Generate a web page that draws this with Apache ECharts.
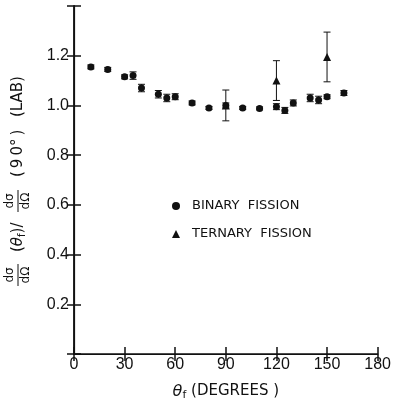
<!DOCTYPE html>
<html>
<head>
<meta charset="utf-8">
<script src="https://cdn.jsdelivr.net/npm/echarts@6/dist/echarts.min.js"></script>
<style>
  html, body { margin: 0; padding: 0; background: #fff; }
  #main { width: 394px; height: 406px; }
</style>
</head>
<body>
<div id="main"></div>
<script>
// angles (deg) and normalised cross sections
var binaryX = [10, 20, 30, 35, 40, 50, 55, 60, 70, 80, 90, 100, 110, 120, 125, 130, 140, 145, 150, 160];
var binaryY = [1.155, 1.145, 1.115, 1.12, 1.07, 1.045, 1.03, 1.035, 1.01, 0.99, 1.0, 0.99, 0.988, 0.995, 0.98, 1.01, 1.03, 1.022, 1.035, 1.05];
var binaryErr = [0.008, 0.008, 0.008, 0.015, 0.015, 0.015, 0.015, 0.012, 0.008, 0.006, 0.01, 0.006, 0.006, 0.012, 0.012, 0.012, 0.015, 0.015, 0.008, 0.01];

var ternaryX = [90, 120, 150];
var ternaryY = [1.0, 1.10, 1.195];
var ternaryErr = [0.062, 0.08, 0.1];

var xTicks = [0, 30, 60, 90, 120, 150, 180];
var yTicks = [0.2, 0.4, 0.6, 0.8, 1.0, 1.2];

var ink = '#111';
var fontFam = 'Liberation Sans';
var titleFam = 'DejaVu Sans';

function pts(xs, ys, es) {
    return xs.map(function (x, i) { return es ? [x, ys[i], es[i]] : [x, ys[i]]; });
}

// vertical error bar with small caps
function renderErr(params, api) {
    var x = api.value(0), y = api.value(1), e = api.value(2);
    var hi = api.coord([x, y + e]);
    var lo = api.coord([x, y - e]);
    var c = 3.5;
    var st = { stroke: ink, lineWidth: 1 };
    return {
        type: 'group',
        children: [
            { type: 'line', shape: { x1: hi[0], y1: hi[1], x2: lo[0], y2: lo[1] }, style: st },
            { type: 'line', shape: { x1: hi[0] - c, y1: hi[1], x2: hi[0] + c, y2: hi[1] }, style: st },
            { type: 'line', shape: { x1: lo[0] - c, y1: lo[1], x2: lo[0] + c, y2: lo[1] }, style: st }
        ]
    };
}

// little stacked dσ/dΩ for the rotated y title
function frac(cx) {
    var f = '12px ' + titleFam;
    return [
        { type: 'text', x: cx, y: -8, style: { text: 'dσ', font: f, fill: ink, align: 'center', verticalAlign: 'middle' } },
        { type: 'line', shape: { x1: cx - 11, y1: 0, x2: cx + 11, y2: 0 }, style: { stroke: ink, lineWidth: 1 } },
        { type: 'text', x: cx, y: 8, style: { text: 'dΩ', font: f, fill: ink, align: 'center', verticalAlign: 'middle' } }
    ];
}

var myChart = echarts.init(document.getElementById('main'));

var tickStyle = { show: true, inside: true, length: 7, lineStyle: { color: ink, width: 1.5 } };

var titleKids = frac(-93).concat(frac(-19)).concat([
    {
        type: 'text', x: -70, y: 0,
        style: {
            text: '{a|(}{t|θ}{s|f}{a|)/}',
            align: 'left', verticalAlign: 'middle',
            rich: {
                a: { font: '15px ' + titleFam, fill: ink },
                t: { font: 'italic 15px ' + titleFam, fill: ink },
                s: { font: '10px ' + titleFam, fill: ink, padding: [8, 0, 0, 0] }
            }
        }
    },
    { type: 'text', x: 5, y: 0, style: { text: '(\u20099\u20090°\u2009)', font: '15px ' + titleFam, fill: ink, align: 'left', verticalAlign: 'middle' } },
    { type: 'text', x: 65, y: 0, style: { text: '(LAB)', font: '15px ' + titleFam, fill: ink, align: 'left', verticalAlign: 'middle' } }
]);

var option = {
    animation: false,
    backgroundColor: '#fff',
    grid: { left: 74, right: 15, top: 6, bottom: 44 },
    legend: {
        orient: 'vertical',
        left: 172,
        top: 199,
        padding: 0,
        itemWidth: 8,
        itemHeight: 8,
        itemGap: 14,
        selectedMode: false,
        textStyle: { color: ink, fontFamily: titleFam, fontSize: 13, lineHeight: 14, padding: [0, 0, 0, 7] },
        data: [
            { name: 'BINARY  FISSION', icon: 'circle' },
            { name: 'TERNARY  FISSION', icon: 'triangle' }
        ]
    },
    xAxis: [{
        type: 'value', min: 0, max: 180, interval: 30,
        axisLine: { lineStyle: { color: ink, width: 1.5 } },
        axisTick: tickStyle,
        splitLine: { show: false },
        axisLabel: {
            color: ink, fontFamily: fontFam, fontSize: 16, margin: 3,
            formatter: function (v) { return xTicks.indexOf(v) >= 0 ? String(v) : ''; }
        },
        name: '{t|θ}{s|f}{n| (DEGREES )}',
        nameLocation: 'middle',
        nameGap: 28,
        nameTextStyle: {
            rich: {
                t: { fontFamily: titleFam, fontSize: 16, fontStyle: 'italic', color: ink },
                s: { fontFamily: titleFam, fontSize: 11, color: ink, padding: [8, 0, 0, 0] },
                n: { fontFamily: titleFam, fontSize: 15, color: ink }
            }
        }
    }, {
        type: 'value', min: 0, max: 180, interval: 30, position: 'top',
        axisLine: { lineStyle: { color: ink, width: 1.2 } },
        axisTick: tickStyle,
        axisLabel: { show: false },
        splitLine: { show: false }
    }],
    yAxis: [{
        type: 'value', min: 0, max: 1.4, interval: 0.2,
        axisLine: { lineStyle: { color: ink, width: 1.8 } },
        axisTick: tickStyle,
        splitLine: { show: false },
        axisLabel: {
            color: ink, fontFamily: fontFam, fontSize: 16, margin: 5,
            formatter: function (v) {
                var r = Math.round(v * 10) / 10;
                return yTicks.indexOf(r) >= 0 ? r.toFixed(1) : '';
            }
        }
    }, {
        type: 'value', min: 0, max: 1.4, interval: 0.2, position: 'right',
        axisLine: { lineStyle: { color: ink, width: 1.2 } },
        axisTick: tickStyle,
        axisLabel: { show: false },
        splitLine: { show: false }
    }],
    graphic: [{
        type: 'group',
        x: 18, y: 182,
        rotation: Math.PI / 2,
        children: titleKids
    }],
    series: [{
        type: 'custom',
        renderItem: renderErr,
        data: pts(binaryX, binaryY, binaryErr),
        encode: { x: 0, y: 1 },
        z: 2
    }, {
        type: 'custom',
        renderItem: renderErr,
        data: pts(ternaryX, ternaryY, ternaryErr),
        encode: { x: 0, y: 1 },
        z: 2
    }, {
        name: 'BINARY  FISSION',
        type: 'scatter',
        symbol: 'circle',
        symbolSize: 7,
        itemStyle: { color: ink, opacity: 1 },
        data: pts(binaryX, binaryY),
        z: 3
    }, {
        name: 'TERNARY  FISSION',
        type: 'scatter',
        symbol: 'triangle',
        symbolSize: 8,
        itemStyle: { color: ink, opacity: 1 },
        data: pts(ternaryX, ternaryY),
        z: 4
    }]
};

myChart.setOption(option);
</script>
</body>
</html>
